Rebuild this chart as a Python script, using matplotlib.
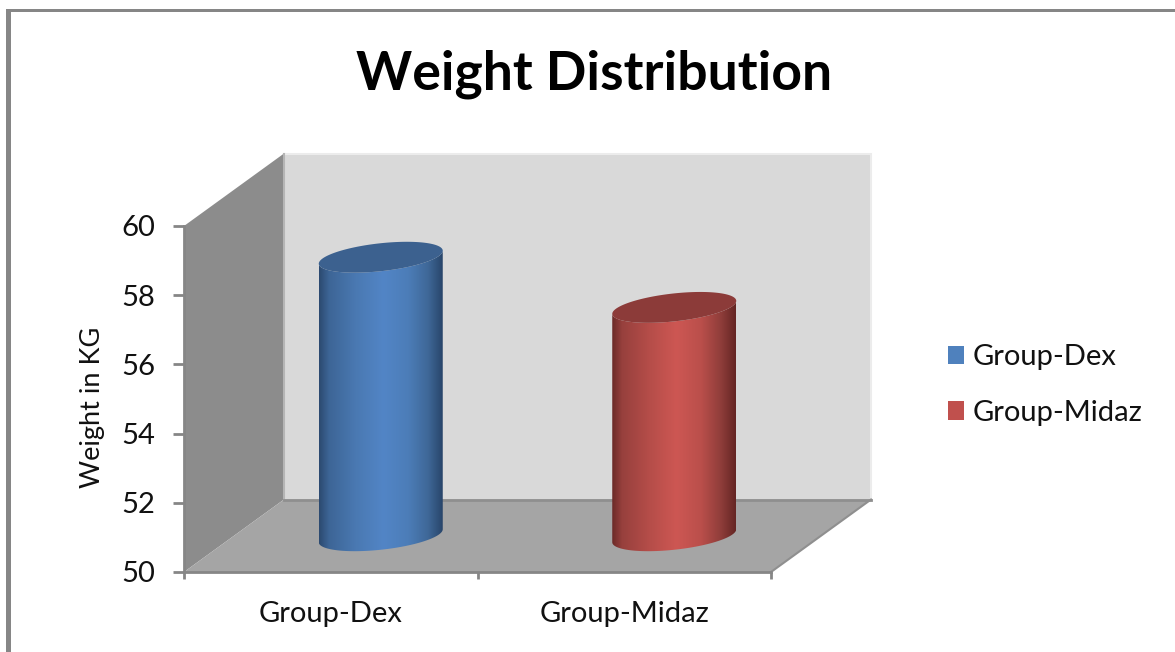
import numpy as np
import matplotlib
matplotlib.use("Agg")
import matplotlib.pyplot as plt
from matplotlib.colors import LinearSegmentedColormap
from matplotlib.patches import Polygon, Patch, Rectangle

categories = ["Group-Dex", "Group-Midaz"]
weights = [58.05, 56.6]
y_ticks = [50, 52, 54, 56, 58, 60]

W, H = 1175, 652
AX_LEFT, AX_RIGHT, AX_TOP, AX_BOTTOM = 184, 771, 226, 572
FRAME = "#868686"
GREY_TEXT = "#111111"

body_stops = [
    ["#2c4a70", "#3d6596", "#4a79b2", "#5285c6", "#4c7db8", "#3f6898", "#28456a"],
    ["#6b2a28", "#97403d", "#b54d49", "#cd5753", "#ba4f4b", "#8f3d3a", "#652624"],
]
stop_pos = [0, 0.08, 0.3, 0.52, 0.72, 0.88, 1]
cap_colors = ["#3c618f", "#8c3b39"]
legend_colors = ["#4f81bd", "#c0504d"]

plt.rcParams["font.family"] = ["Lato", "DejaVu Sans"]

fig = plt.figure(figsize=(W / 100, H / 100), dpi=100, facecolor="white")
ax = fig.add_axes([AX_LEFT / W, 1 - AX_BOTTOM / H, (AX_RIGHT - AX_LEFT) / W, (AX_BOTTOM - AX_TOP) / H])
ax.set_xlim(0, 2)
ax.set_ylim(50, 60)
ax.patch.set_visible(False)

# pixels per data unit, the fake 3D depth is worked out from these
px_x = (AX_RIGHT - AX_LEFT) / 2
px_y = (AX_BOTTOM - AX_TOP) / 10
depth_x = 100 / px_x
depth_y = 72.5 / px_y


def box_poly(points, **kw):
    # points are (x, y, depth) with depth 0 at the front and 1 at the back
    xy = [(x + d * depth_x, y + d * depth_y) for x, y, d in points]
    p = Polygon(xy, closed=True, clip_on=False, **kw)
    ax.add_patch(p)
    return p


# walls and floor
box_poly([(0, 50, 1), (2, 50, 1), (2, 60, 1), (0, 60, 1)], fc="#d9d9d9", ec="#ececec", lw=1.5, zorder=1)
box_poly([(0, 50, 0), (0, 50, 1), (0, 60, 1), (0, 60, 0)], fc="#8c8c8c", ec="none", zorder=1.1)
box_poly([(0, 50, 0), (2, 50, 0), (2, 50, 1), (0, 50, 1)], fc="#a5a5a5", ec="none", zorder=1.2)
ax.plot([depth_x, depth_x], [50 + depth_y, 60 + depth_y], color="#b5b5b5", lw=1.5, clip_on=False, zorder=1.15)
ax.plot([depth_x, 2 + depth_x], [50 + depth_y, 50 + depth_y], color="#8f8f8f", lw=2, clip_on=False, zorder=1.3)
ax.plot([2, 2 + depth_x], [50, 50 + depth_y], color="#8f8f8f", lw=1.5, clip_on=False, zorder=1.3)


def ellipse(cx, cy, t):
    x = cx + 62 * np.cos(t) / px_x
    y = cy + (6.5 * np.cos(t) + 14 * np.sin(t)) / px_y
    return np.column_stack([x, y])


# cylinders sit half way back on the floor
for i, val in enumerate(weights):
    cx = i + 0.5 + depth_x / 2
    base = 50 + depth_y / 2
    top = val + depth_y / 2
    front = ellipse(cx, top, np.linspace(np.pi, 2 * np.pi, 60))
    lower = ellipse(cx, base, np.linspace(0, -np.pi, 60))
    body = Polygon(np.vstack([front, lower]), closed=True, fc="none", ec="none", transform=ax.transData)
    ax.add_patch(body)
    cmap = LinearSegmentedColormap.from_list("body", list(zip(stop_pos, body_stops[i])))
    im = ax.imshow(np.linspace(0, 1, 256)[None, :], cmap=cmap, aspect="auto",
                   extent=[cx - 62 / px_x, cx + 62 / px_x, base - 1, top + 1], zorder=3)
    im.set_clip_path(body)
    cap = Polygon(ellipse(cx, top, np.linspace(0, 2 * np.pi, 120)), closed=True, fc=cap_colors[i], ec="none", zorder=3.1)
    ax.add_patch(cap)

ax.set_xlim(0, 2)
ax.set_ylim(50, 60)

# axes
for s in ["top", "right"]:
    ax.spines[s].set_visible(False)
for s in ["left", "bottom"]:
    ax.spines[s].set_color(FRAME)
    ax.spines[s].set_linewidth(2)
ax.set_yticks(y_ticks)
ax.set_xticks([0, 1, 2], labels=[])
ax.set_xticks([0.5, 1.5], labels=categories, minor=True)
ax.tick_params(axis="y", length=8, width=2, color=FRAME, labelsize=21, pad=13, labelcolor=GREY_TEXT)
ax.tick_params(axis="x", which="major", length=5, width=2, color=FRAME)
ax.tick_params(axis="x", which="minor", length=0, labelsize=21, pad=21, labelcolor=GREY_TEXT)
ax.set_ylabel("Weight in KG", fontsize=19.5, color=GREY_TEXT)
ax.yaxis.set_label_coords((105 - AX_LEFT) / (AX_RIGHT - AX_LEFT), 0.477)

fig.text(594 / W, 1 - 74 / H, "Weight Distribution", fontsize=38.5, fontweight="bold",
         ha="center", va="center", color="#000000")

handles = [Patch(fc=c, ec="none", label=n) for c, n in zip(legend_colors, categories)]
fig.legend(handles=handles, loc="center left", bbox_to_anchor=(922 / W, 1 - 385 / H), frameon=False,
           fontsize=21, labelspacing=1.01, handlelength=0.55, handleheight=0.62, handletextpad=0.27,
           labelcolor=GREY_TEXT)

# outer chart frame, only the top and left edges fall inside the image
fig.add_artist(Rectangle((6 / W, 0), 5 / W, 1 - 9 / H, transform=fig.transFigure, fc=FRAME, ec="none"))
fig.add_artist(Rectangle((6 / W, 1 - 12 / H), 1 - 6 / W, 3 / H, transform=fig.transFigure, fc=FRAME, ec="none"))

fig.savefig("out.png", dpi=100)
